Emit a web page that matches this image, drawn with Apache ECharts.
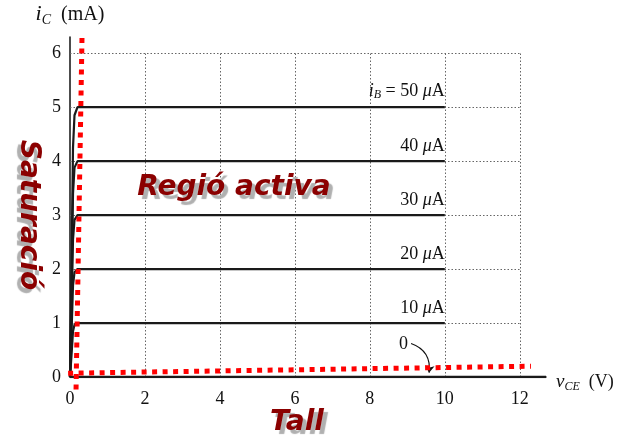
<!DOCTYPE html>
<html>
<head>
<meta charset="utf-8">
<script src="https://cdn.jsdelivr.net/npm/echarts@6/dist/echarts.min.js"></script>
<style>html,body{margin:0;padding:0;background:#fff}#c{width:627px;height:438px}</style>
</head>
<body>
<div id="c"></div>
<script>
// ---- data ----
const xTicks = [0, 2, 4, 6, 8, 10, 12];
const yTicks = [0, 1, 2, 3, 4, 5, 6];
const gridX = [2, 4, 6, 8, 10, 12];
const gridY = [1, 2, 3, 4, 5, 6];
const vce = [0, 0.04, 0.08, 0.12, 0.2, 10];
const ic10 = [0, 0.4, 0.85, 0.97, 1.0, 1.0];
const ic20 = [0, 0.8, 1.7, 1.94, 2.0, 2.0];
const ic30 = [0, 1.2, 2.55, 2.91, 3.0, 3.0];
const ic40 = [0, 1.6, 3.4, 3.88, 4.0, 4.0];
const ic50 = [0, 2.0, 4.25, 4.85, 5.0, 5.0];
const ib0V = [0, 12.7];
const ib0I = [0, 0];
const curveNames = ['10', '20', '30', '40', '50'];
const redTallV = [-0.05, 12.3];
const redTallI = [0.07, 0.2];
const redSatV = [0.32, 0.16];
const redSatI = [6.28, -0.28];
const zeroLabelPt = [8.9, 0.6];
const zeroArrow = [[9.1, 0.62], [9.58, 0.08]];

const serif = '"Liberation Serif", "Times New Roman", serif';
const pts = (xs, ys) => xs.map((x, i) => [x, ys[i]]);

function curve(ys, name, first) {
  const d = pts(vce, ys);
  const last = d.length - 1;
  d[last] = {
    value: d[last],
    label: {
      show: true, position: 'top', distance: 6, align: 'right',
      formatter: first ? '{i|i}{s|B}{n| = ' + name + ' }{i|μ}{n|A}' : '{n|' + name + ' }{i|μ}{n|A}'
    }
  };
  return {
    type: 'line', data: d, symbol: 'circle', symbolSize: 0, showSymbol: true,
    lineStyle: { color: '#1a1a1a', width: 2.2 }, silent: true, z: 5,
    label: {
      rich: {
        n: { fontFamily: serif, fontSize: 18, color: '#111' },
        i: { fontFamily: serif, fontSize: 18, fontStyle: 'italic', color: '#111' },
        s: { fontFamily: serif, fontSize: 12, fontStyle: 'italic', color: '#111', verticalAlign: 'bottom', padding: [8, 0, 0, 0] }
      }
    }
  };
}

const chart = echarts.init(document.getElementById('c'));
const redStyle = { color: '#ff0000', width: 5, type: [5, 5.5], cap: 'butt' };
const shadowText = (extra) => Object.assign({
  fill: '#8b0000', fontFamily: '"DejaVu Sans", Arial, sans-serif', fontWeight: 'bold', fontStyle: 'italic',
  fontSize: 28, textShadowColor: '#b0b0b0', textShadowBlur: 1, textShadowOffsetX: 4, textShadowOffsetY: 4
}, extra);

chart.setOption({
  animation: false,
  grid: { left: 70, right: 81, top: 37, bottom: 61, containLabel: false },
  xAxis: {
    type: 'value', min: 0, max: 12.7, interval: 2,
    axisLine: { show: true, lineStyle: { color: '#111', width: 1.5 } },
    axisTick: { show: false }, splitLine: { show: false },
    axisLabel: { showMaxLabel: false, margin: 13, color: '#111', fontFamily: serif, fontSize: 18,
      formatter: v => xTicks.includes(v) ? String(v) : '' },
    name: '{i|v}{s|CE}{n|  (V)}', nameLocation: 'end', nameGap: 10,
    nameTextStyle: { padding: [10, 0, 0, 0], rich: {
      n: { fontFamily: serif, fontSize: 18, color: '#111' },
      i: { fontFamily: serif, fontSize: 19, fontStyle: 'italic', color: '#111' },
      s: { fontFamily: serif, fontSize: 12, fontStyle: 'italic', color: '#111', verticalAlign: 'bottom', padding: [9, 0, 0, 0] } } }
  },
  yAxis: {
    type: 'value', min: 0, max: 6.3, interval: 1,
    axisLine: { show: true, lineStyle: { color: '#111', width: 1.5 } },
    axisTick: { show: false }, splitLine: { show: false },
    axisLabel: { showMaxLabel: false, margin: 9, color: '#111', fontFamily: serif, fontSize: 18,
      formatter: v => yTicks.includes(v) ? String(v) : '' },
    name: '{i|i}{s|C}{n|  (mA)}', nameLocation: 'end', nameGap: 10,
    nameTextStyle: { rich: {
      n: { fontFamily: serif, fontSize: 20, color: '#111' },
      i: { fontFamily: serif, fontSize: 22, fontStyle: 'italic', color: '#111' },
      s: { fontFamily: serif, fontSize: 14, fontStyle: 'italic', color: '#111', verticalAlign: 'bottom', padding: [11, 0, 0, 0] } } }
  },
  series: [
    {
      type: 'line', data: [], silent: true,
      markLine: {
        silent: true, symbol: 'none', label: { show: false },
        lineStyle: { color: '#666', width: 1, type: [1.5, 2] },
        data: gridX.map(x => [{ coord: [x, 0] }, { coord: [x, 6] }])
          .concat(gridY.map(y => [{ coord: [0, y] }, { coord: [12, y] }]))
      }
    },
    curve(ic10, curveNames[0], false),
    curve(ic20, curveNames[1], false),
    curve(ic30, curveNames[2], false),
    curve(ic40, curveNames[3], false),
    curve(ic50, curveNames[4], true),
    {
      type: 'line', data: pts(ib0V, ib0I), showSymbol: false, silent: true, z: 5,
      lineStyle: { color: '#1a1a1a', width: 2.4 },
      markPoint: {
        silent: true, symbol: 'circle', symbolSize: 0,
        label: { show: true, formatter: '0', position: 'inside', color: '#111', fontFamily: serif, fontSize: 18 },
        data: [{ coord: zeroLabelPt }]
      }
    },
    {
      type: 'lines', coordinateSystem: 'cartesian2d', silent: true, z: 6,
      symbol: ['none', 'arrow'], symbolSize: 7,
      lineStyle: { color: '#111', width: 1.2, opacity: 1, curveness: 0.4 },
      data: [{ coords: zeroArrow }]
    },
    {
      type: 'line', data: pts(redTallV, redTallI), showSymbol: false, silent: true, clip: false, z: 10,
      lineStyle: redStyle
    },
    {
      type: 'line', data: pts(redSatV, redSatI), showSymbol: false, silent: true, clip: false, z: 10,
      lineStyle: redStyle
    }
  ],
  graphic: [
    { type: 'text', x: 234, y: 188, z: 20, style: shadowText({ text: 'Regió activa', align: 'center', verticalAlign: 'middle' }) },
    { type: 'text', x: 297, y: 423, z: 20, style: shadowText({ text: 'Tall', align: 'center', verticalAlign: 'middle' }) },
    { type: 'text', x: 28, y: 215, rotation: -Math.PI / 2, z: 20,
      style: shadowText({ text: 'Saturació', align: 'center', verticalAlign: 'middle', textShadowOffsetX: -4, textShadowOffsetY: 4 }) }
  ]
});
</script>
</body>
</html>
